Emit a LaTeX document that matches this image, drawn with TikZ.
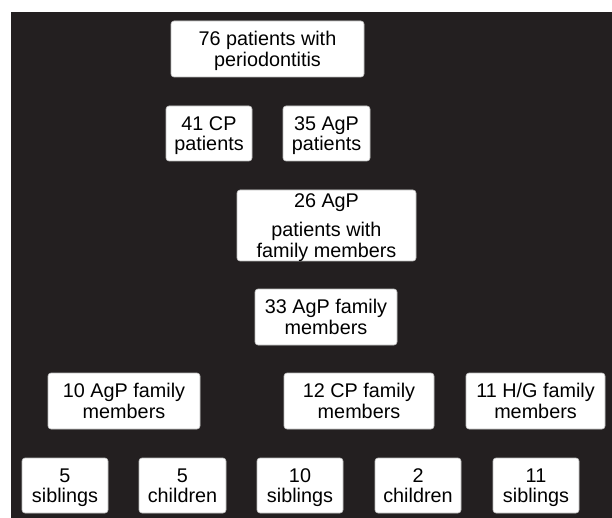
\documentclass[tikz,border=0pt]{standalone}
\usepackage{fontspec}
\setmainfont{Liberation Sans}
\definecolor{bgdark}{HTML}{231F20}
\definecolor{boxedge}{HTML}{BBBBBB}
\begin{document}
\begin{tikzpicture}[x=1pt,y=-1pt,
  box/.style={draw=boxedge,line width=0.6pt,fill=white,rounded corners=3pt,
    inner sep=0pt,align=center,text=black,
    font=\fontsize{19.8}{20.5}\selectfont,
    text depth=0pt,
    execute at begin node={\rule{0pt}{14.2pt}}},
]
\useasboundingbox (0,0) rectangle (612,518);
\fill[bgdark] (11,12) rectangle (612,518);
% row 1
\node[box,minimum width=193pt,minimum height=56pt] (b1) at (267.5,49) {76 patients with\\periodontitis};
% row 2
\node[box,minimum width=86pt,minimum height=55pt] (b2) at (209,133.5) {41 CP\\patients};
\node[box,minimum width=87pt,minimum height=55pt] (b3) at (326.5,133.5) {35 AgP\\patients};
% row 3
\node[box,minimum width=179pt,minimum height=71pt] (b4) at (326.5,225.5) {26 AgP\\[9pt]patients with\\family members};
% row 4
\node[box,minimum width=142pt,minimum height=56pt] (b5) at (326,317) {33 AgP family\\members};
% row 5
\node[box,minimum width=152pt,minimum height=56pt] (b6) at (124,401) {10 AgP family\\members};
\node[box,minimum width=150pt,minimum height=56pt] (b7) at (359,401) {12 CP family\\members};
\node[box,minimum width=139pt,minimum height=56pt] (b8) at (535.5,401) {11 H/G family\\members};
% row 6
\node[box,minimum width=86pt,minimum height=55pt] (b9) at (65,485.5) {5\\siblings};
\node[box,minimum width=87pt,minimum height=55pt] (b10) at (182.5,485.5) {5\\children};
\node[box,minimum width=86pt,minimum height=55pt] (b11) at (300,485.5) {10\\siblings};
\node[box,minimum width=86pt,minimum height=55pt] (b12) at (418,485.5) {2\\children};
\node[box,minimum width=86pt,minimum height=55pt] (b13) at (536,485.5) {11\\siblings};
\end{tikzpicture}
\end{document}
